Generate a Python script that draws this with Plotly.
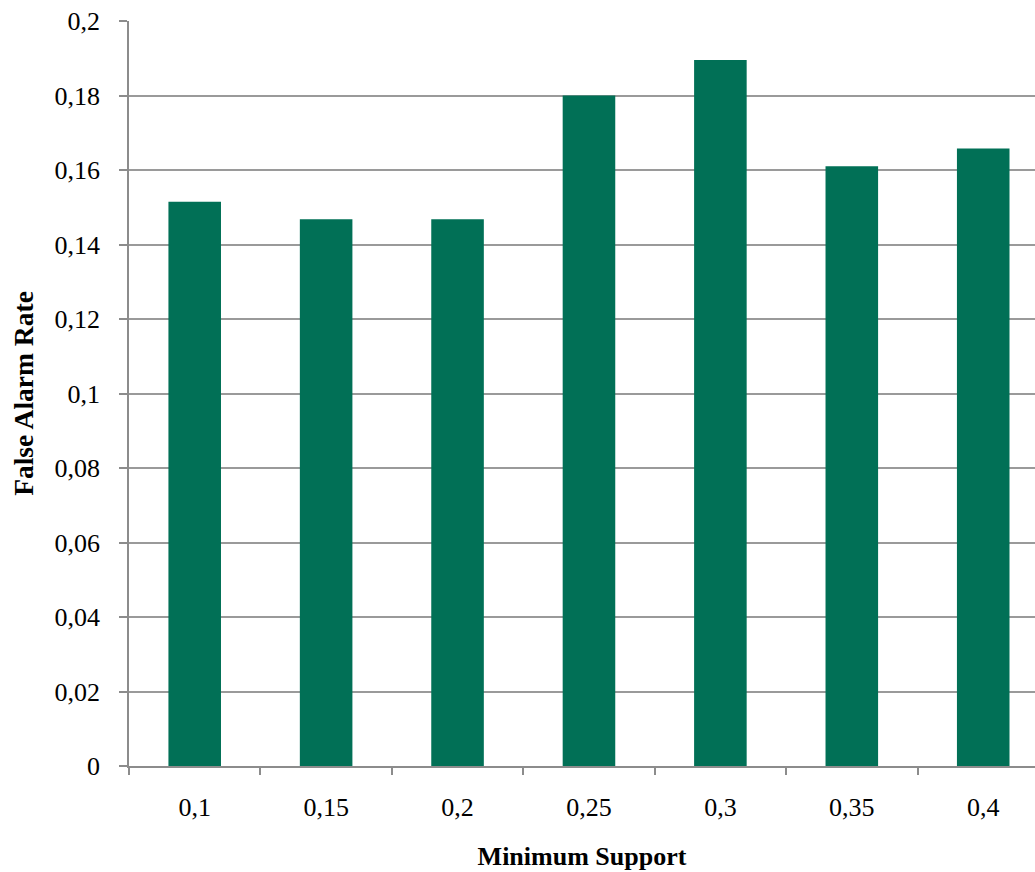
import plotly.graph_objects as go

# Minimum support thresholds and the false alarm rate measured at each
support_labels = ["0,1", "0,15", "0,2", "0,25", "0,3", "0,35", "0,4"]
false_alarm_rate = [0.1515, 0.1468, 0.1468, 0.180, 0.1895, 0.1610, 0.1658]

y_tick_values = [0, 0.02, 0.04, 0.06, 0.08, 0.1, 0.12, 0.14, 0.16, 0.18, 0.2]
y_tick_labels = ["0", "0,02", "0,04", "0,06", "0,08", "0,1", "0,12", "0,14", "0,16", "0,18", "0,2"]

BAR_COLOR = "#017056"
GRID_COLOR = "#9a9a9a"
AXIS_COLOR = "#8c8c8c"
FONT = "Liberation Serif"

fig = go.Figure(
    go.Bar(
        x=support_labels,
        y=false_alarm_rate,
        marker=dict(color=BAR_COLOR, line=dict(width=0)),
        width=0.4,
    )
)

fig.update_layout(
    width=1035,
    height=872,
    margin=dict(l=129, r=0, t=21, b=106),
    paper_bgcolor="white",
    plot_bgcolor="white",
    showlegend=False,
    font=dict(family=FONT, size=26, color="black"),
)

fig.update_xaxes(
    type="category",
    range=[-0.5, 6.394],
    showline=True,
    linecolor=AXIS_COLOR,
    linewidth=1.5,
    ticks="outside",
    tickson="boundaries",
    ticklen=7,
    tickcolor=AXIS_COLOR,
    tickwidth=1.5,
    showgrid=False,
    tickfont=dict(family=FONT, size=26),
    ticklabelstandoff=17,
    title=dict(
        text="<b>Minimum Support</b>",
        font=dict(family=FONT, size=26),
        standoff=26,
    ),
)

fig.update_yaxes(
    range=[0, 0.2],
    tickvals=y_tick_values,
    ticktext=y_tick_labels,
    showline=True,
    linecolor=AXIS_COLOR,
    linewidth=1.5,
    ticks="outside",
    ticklen=8,
    tickcolor=AXIS_COLOR,
    tickwidth=1.5,
    showgrid=True,
    gridcolor=GRID_COLOR,
    gridwidth=1.5,
    zeroline=False,
    tickfont=dict(family=FONT, size=26),
    ticklabelstandoff=14,
    title=dict(
        text="<b>False Alarm Rate</b>",
        font=dict(family=FONT, size=27.5),
        standoff=13,
    ),
)

fig.write_html("out.html")
